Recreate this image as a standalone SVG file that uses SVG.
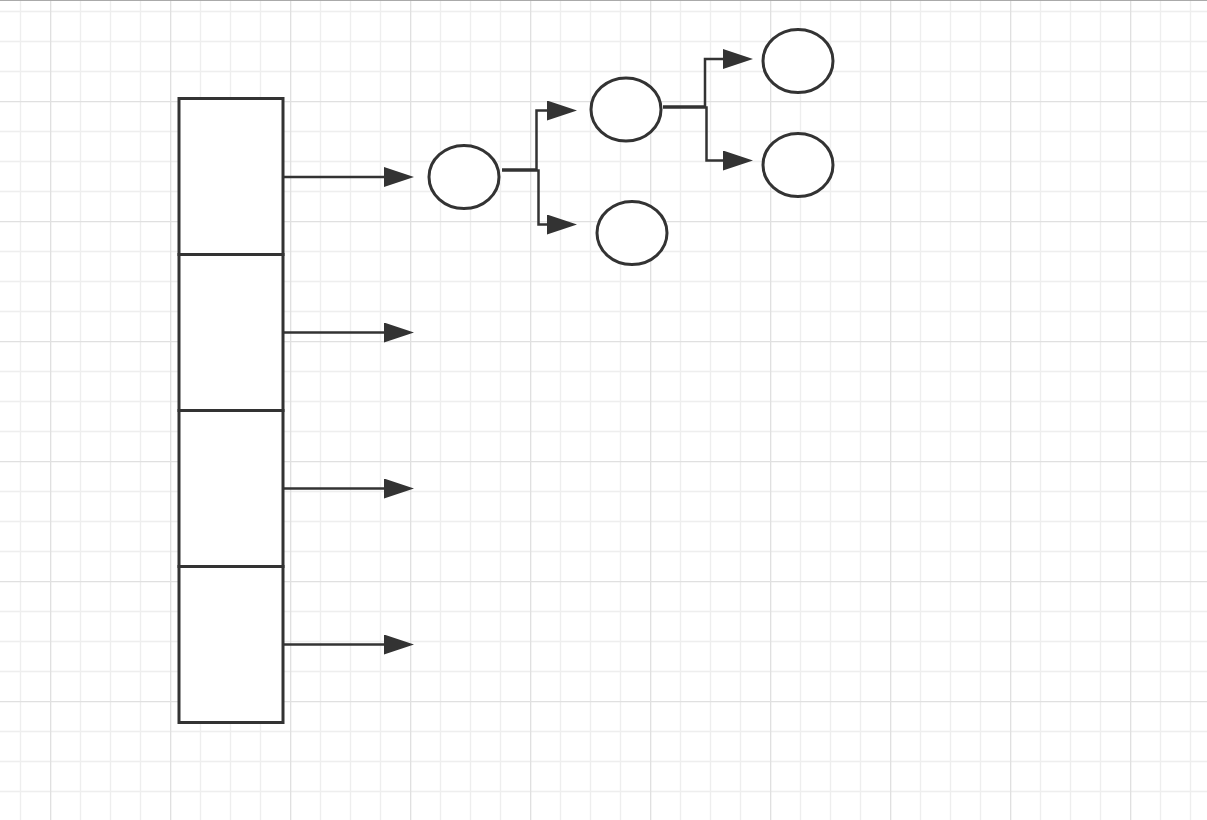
<svg xmlns="http://www.w3.org/2000/svg" width="1207" height="820" viewBox="0 0 1207 820">
  <defs>
    <pattern id="grid" patternUnits="userSpaceOnUse" x="50" y="101" width="120" height="120">
      <rect width="120" height="120" fill="#ffffff"/>
      <path d="M30.5 0V120M60.5 0V120M90.5 0V120M0 30.5H120M0 60.5H120M0 90.5H120" stroke="#eeeeee" stroke-width="1.3" fill="none"/>
      <path d="M0.5 0V120M0 0.5H120" stroke="#e0e0e0" stroke-width="1.6" fill="none"/>
    </pattern>
    <marker id="arr" viewBox="0 0 30 20" refX="16" refY="10" markerWidth="30" markerHeight="20" markerUnits="userSpaceOnUse" orient="auto">
      <path d="M0 0L30 10L0 20Z" fill="#333333"/>
    </marker>
    <style>
      .shape { fill: #ffffff; stroke: #333333; stroke-width: 3; }
      .edge { fill: none; stroke: #333333; stroke-width: 2.5; marker-end: url(#arr); }
    </style>
  </defs>
  <rect width="1207" height="820" fill="url(#grid)"/>
  <line x1="0" y1="0.5" x2="1207" y2="0.5" stroke="#aaaaaa" stroke-width="1"/>

  <g id="array">
    <rect id="cell1" class="shape" x="179" y="98.5" width="104" height="156"/>
    <rect id="cell2" class="shape" x="179" y="254.5" width="104" height="156"/>
    <rect id="cell3" class="shape" x="179" y="410.5" width="104" height="156"/>
    <rect id="cell4" class="shape" x="179" y="566.5" width="104" height="156"/>
  </g>

  <g id="node-root"><ellipse class="shape" cx="464" cy="177" rx="35" ry="31.5"/></g>
  <g id="node-l1-top"><ellipse class="shape" cx="626" cy="109.5" rx="35" ry="31.5"/></g>
  <g id="node-l1-bottom"><ellipse class="shape" cx="632" cy="233" rx="35" ry="31.5"/></g>
  <g id="node-l2-top"><ellipse class="shape" cx="798" cy="61" rx="35" ry="31.5"/></g>
  <g id="node-l2-bottom"><ellipse class="shape" cx="798" cy="165" rx="35" ry="31.5"/></g>

  <g id="connectors">
    <path class="edge" d="M284 177H400"/>
    <path class="edge" d="M284 332.5H400"/>
    <path class="edge" d="M284 488.5H400"/>
    <path class="edge" d="M284 644.5H400"/>
    <path class="edge" d="M502 169.5H536.5V110.5H563"/>
    <path class="edge" d="M502 170.5H538.5V224.5H563"/>
    <path class="edge" d="M663 106.5H705V59H739"/>
    <path class="edge" d="M663 107.5H706.5V160.5H739"/>
  </g>
</svg>
